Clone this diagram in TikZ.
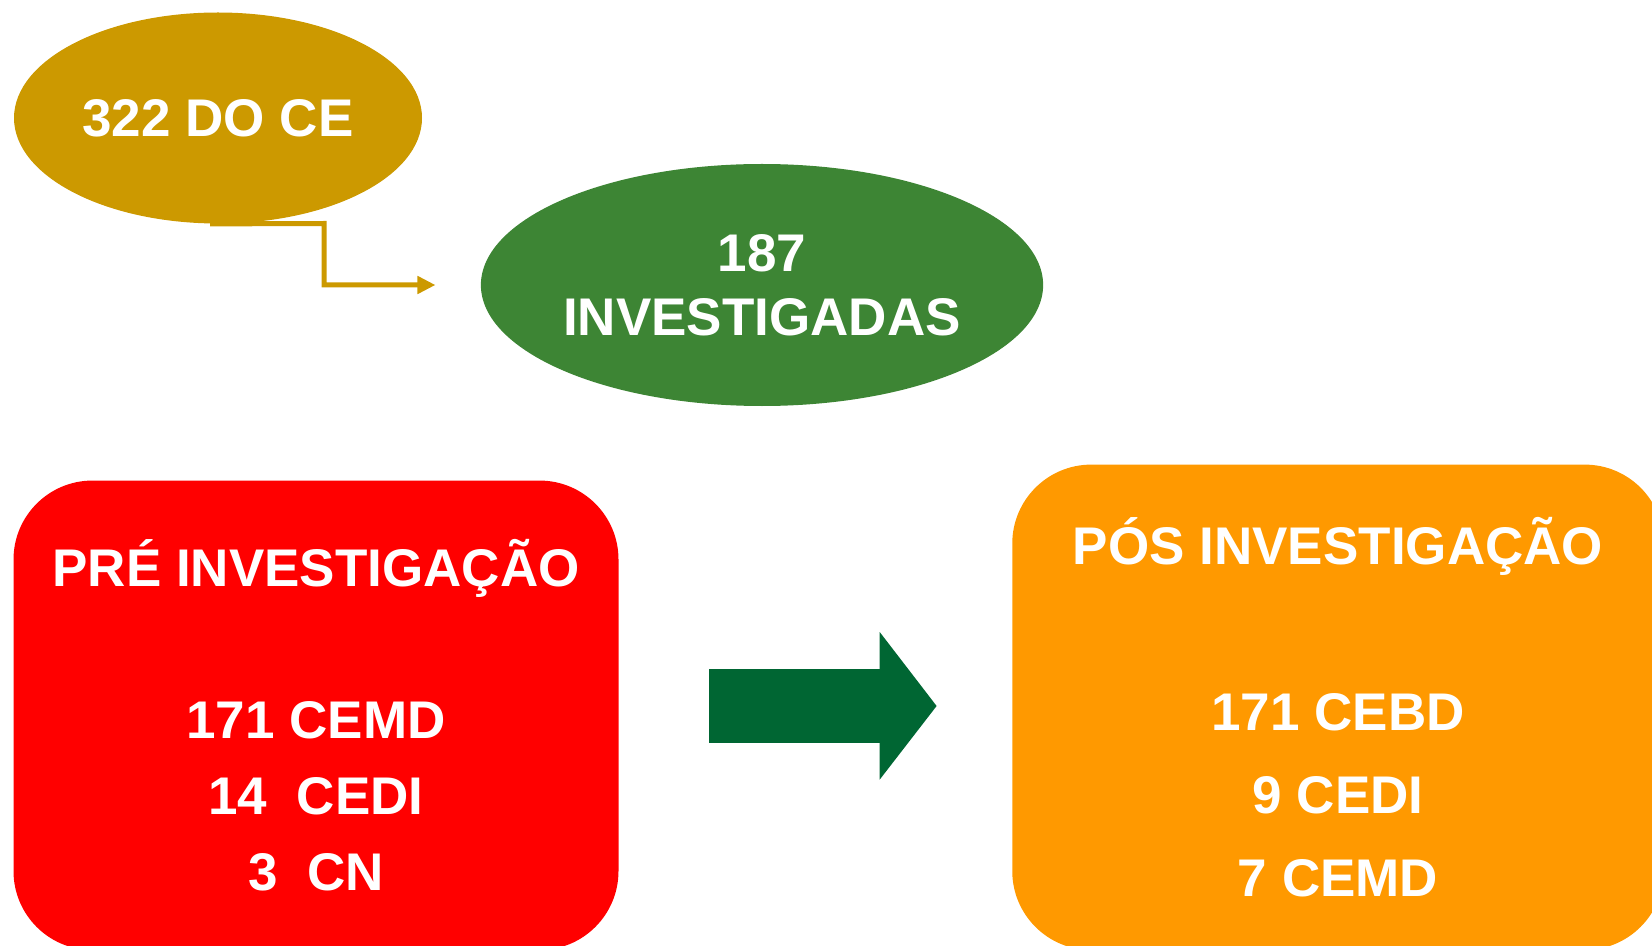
\documentclass[tikz,border=0pt]{standalone}
\usepackage{fontspec}
\setmainfont{Liberation Sans}
\usepackage{xcolor}
\usepackage{tikz}
\usetikzlibrary{shapes.geometric, positioning, arrows.meta, calc}
\definecolor{ceGold}{RGB}{204,153,0}
\definecolor{invGreen}{RGB}{61,133,52}
\definecolor{flowGreen}{RGB}{0,102,51}
\definecolor{preRed}{RGB}{255,0,0}
\definecolor{posOrange}{RGB}{255,153,0}

\begin{document}
\begin{tikzpicture}[x=0.5pt,y=-0.5pt,
                    oval node/.style={ellipse,inner sep=0pt,text=white,align=center,font=\bfseries\fontsize{26.5}{32}\selectfont},
                    box node/.style={rectangle,rounded corners=39.5pt,inner sep=0pt,text=white,align=center}]
\clip (0,0) rectangle (1652,946);

\node[oval node,fill=ceGold,minimum width=204pt,minimum height=105.5pt] (DoCE) at (218,118) {322 DO CE};
\node[oval node,fill=invGreen,minimum width=280pt,minimum height=121pt] (Investigadas) at (762,285) {187\\INVESTIGADAS};

\node[box node,fill=preRed,minimum width=302.5pt,minimum height=234.75pt,
      font=\bfseries\fontsize{26.5}{38}\selectfont] (PreBox) at (316,715.3)
      {PRÉ INVESTIGAÇÃO\\[38pt]171 CEMD\\14\ \ CEDI\\3\ \ CN};
\node[box node,fill=posOrange,minimum width=325.75pt,minimum height=242.7pt,
      font=\bfseries\fontsize{26.5}{41.5}\selectfont] (PosBox) at (1338,707.3)
      {PÓS INVESTIGAÇÃO\\[41.5pt]171 CEBD\\9 CEDI\\7 CEMD};

% elbow link from the first oval
\coordinate (Bend) at (324,223.5);
\draw[ceGold,line width=2.5pt,-{Triangle[length=9pt,width=8.5pt]}]
      ([xshift=-4pt]DoCE.south) -- (Bend) |- ([xshift=-22.5pt]Investigadas.west);

% block arrow between the boxes
\fill[flowGreen] (709,669) -- (879.7,669) -- (879.7,632) -- (936.6,706)
      -- (879.7,779.6) -- (879.7,742.8) -- (709,742.8) -- cycle;
\end{tikzpicture}
\end{document}
